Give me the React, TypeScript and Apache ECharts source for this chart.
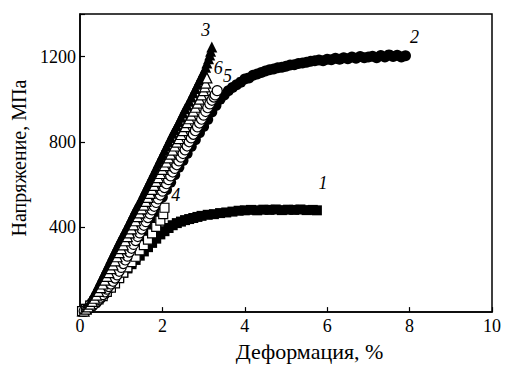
import React, { useEffect, useRef } from "react";
import * as echarts from "echarts";

const FONT = '"Liberation Serif", "Times New Roman", serif';

const xTicks = [0, 2, 4, 6, 8, 10];
const yTicks = [0, 400, 800, 1200];

// curve 1 — filled squares
const curve1: number[][] = [
  [0.05, 5], [0.15, 15], [0.25, 30], [0.35, 50], [0.45, 70], [0.55, 85], [0.65, 100], [0.75, 118],
  [0.85, 140], [0.95, 165], [1.05, 185], [1.15, 205], [1.25, 225], [1.35, 245], [1.45, 265],
  [1.55, 285], [1.65, 305], [1.75, 325], [1.85, 345], [1.95, 365], [2.05, 380], [2.15, 395],
  [2.25, 408], [2.35, 418], [2.45, 425], [2.55, 432], [2.65, 437], [2.75, 442], [2.85, 447],
  [2.95, 452], [3.1, 457], [3.25, 460], [3.4, 465], [3.55, 468], [3.7, 472], [3.85, 476],
  [4.0, 478], [4.15, 480], [4.3, 478], [4.45, 481], [4.6, 480], [4.75, 482], [4.9, 479],
  [5.05, 481], [5.2, 480], [5.35, 482], [5.5, 479], [5.65, 480], [5.75, 478],
];

// curve 2 — filled circles
const curve2: number[][] = [
  [0.1, 5], [0.2, 15], [0.3, 30], [0.4, 45], [0.5, 65], [0.6, 85], [0.7, 110], [0.8, 135],
  [0.9, 165], [1.0, 195], [1.1, 228], [1.2, 262], [1.3, 295], [1.4, 330], [1.5, 365], [1.6, 400],
  [1.7, 435], [1.8, 470], [1.9, 505], [2.0, 540], [2.1, 575], [2.2, 610], [2.3, 645], [2.4, 680],
  [2.5, 712], [2.6, 745], [2.7, 778], [2.8, 810], [2.9, 842], [3.0, 872], [3.1, 905], [3.2, 940],
  [3.3, 970], [3.4, 1000], [3.5, 1020], [3.6, 1040], [3.7, 1055], [3.8, 1068], [3.9, 1080],
  [4.0, 1095], [4.1, 1100], [4.2, 1112], [4.3, 1118], [4.4, 1125], [4.5, 1132], [4.6, 1138],
  [4.7, 1142], [4.8, 1148], [4.9, 1150], [5.0, 1155], [5.1, 1160], [5.2, 1162], [5.3, 1168],
  [5.4, 1170], [5.5, 1173], [5.6, 1178], [5.7, 1180], [5.8, 1184], [5.9, 1180], [6.0, 1188],
  [6.1, 1185], [6.2, 1192], [6.3, 1188], [6.4, 1195], [6.5, 1190], [6.6, 1198], [6.7, 1192],
  [6.8, 1200], [6.9, 1195], [7.0, 1198], [7.1, 1202], [7.2, 1195], [7.3, 1205], [7.4, 1198],
  [7.5, 1208], [7.6, 1200], [7.7, 1206], [7.8, 1198], [7.9, 1204],
];

// curve 3 — filled triangles
const curve3: number[][] = [
  [0.05, 5], [0.1, 14], [0.15, 25], [0.2, 40], [0.25, 55], [0.3, 72], [0.35, 90], [0.4, 110],
  [0.45, 130], [0.5, 150], [0.55, 170], [0.6, 190], [0.65, 210], [0.7, 230], [0.75, 250],
  [0.8, 270], [0.85, 290], [0.9, 310], [0.95, 330], [1.0, 349], [1.05, 368], [1.1, 387],
  [1.15, 405], [1.2, 425], [1.25, 445], [1.3, 465], [1.35, 485], [1.4, 502], [1.45, 520],
  [1.5, 540], [1.55, 560], [1.6, 580], [1.65, 600], [1.7, 620], [1.75, 640], [1.8, 660],
  [1.85, 680], [1.9, 700], [1.95, 720], [2.0, 740], [2.05, 760], [2.1, 780], [2.15, 800],
  [2.2, 820], [2.25, 840], [2.3, 858], [2.35, 875], [2.4, 895], [2.45, 915], [2.5, 935],
  [2.55, 955], [2.6, 972], [2.65, 990], [2.7, 1010], [2.75, 1030], [2.8, 1050], [2.85, 1070],
  [2.9, 1090], [2.95, 1110], [3.0, 1130], [3.05, 1150], [3.08, 1170], [3.12, 1190],
  [3.15, 1208], [3.17, 1225], [3.2, 1245],
];

// curve 4 — open squares
const curve4: number[][] = [
  [0.05, 5], [0.15, 15], [0.25, 30], [0.35, 45], [0.45, 60], [0.55, 75], [0.65, 95], [0.75, 115],
  [0.85, 135], [0.95, 160], [1.05, 185], [1.15, 210], [1.25, 235], [1.35, 260], [1.45, 290],
  [1.55, 315], [1.65, 340], [1.75, 370], [1.85, 400], [1.95, 430], [2.02, 460], [2.05, 490],
];

// curve 5 — open circles
const curve5: number[][] = [
  [0.1, 5], [0.15, 10], [0.2, 15], [0.25, 22], [0.3, 30], [0.35, 40], [0.4, 50], [0.45, 60],
  [0.5, 70], [0.55, 82], [0.6, 95], [0.65, 108], [0.7, 120], [0.75, 132], [0.8, 145],
  [0.85, 160], [0.9, 175], [0.95, 192], [1.0, 210], [1.05, 228], [1.1, 245], [1.15, 263],
  [1.2, 282], [1.25, 300], [1.3, 318], [1.35, 336], [1.4, 355], [1.45, 372], [1.5, 390],
  [1.55, 408], [1.6, 425], [1.65, 444], [1.7, 462], [1.75, 480], [1.8, 497], [1.85, 515],
  [1.9, 532], [1.95, 550], [2.0, 568], [2.05, 585], [2.1, 603], [2.15, 622], [2.2, 640],
  [2.25, 658], [2.3, 675], [2.35, 692], [2.4, 710], [2.45, 728], [2.5, 745], [2.55, 762],
  [2.6, 780], [2.65, 800], [2.7, 818], [2.75, 835], [2.8, 852], [2.85, 870], [2.9, 888],
  [2.95, 906], [3.0, 925], [3.05, 942], [3.1, 960], [3.15, 978], [3.2, 995], [3.25, 1010],
  [3.28, 1020], [3.33, 1040],
];

// curve 6 — open triangles
const curve6: number[][] = [
  [0.1, 5], [0.15, 14], [0.2, 25], [0.25, 37], [0.3, 50], [0.35, 65], [0.4, 80], [0.45, 97],
  [0.5, 115], [0.55, 132], [0.6, 150], [0.65, 168], [0.7, 185], [0.75, 204], [0.8, 222],
  [0.85, 241], [0.9, 260], [0.95, 279], [1.0, 298], [1.05, 316], [1.1, 335], [1.15, 354],
  [1.2, 372], [1.25, 391], [1.3, 410], [1.35, 429], [1.4, 448], [1.45, 466], [1.5, 485],
  [1.55, 502], [1.6, 520], [1.65, 539], [1.7, 558], [1.75, 576], [1.8, 595], [1.85, 614],
  [1.9, 632], [1.95, 651], [2.0, 670], [2.05, 688], [2.1, 705], [2.15, 724], [2.2, 742],
  [2.25, 761], [2.3, 780], [2.35, 798], [2.4, 815], [2.45, 834], [2.5, 852], [2.55, 871],
  [2.6, 890], [2.65, 908], [2.7, 925], [2.75, 944], [2.8, 962], [2.85, 981], [2.9, 1000],
  [2.95, 1020], [3.0, 1040], [3.03, 1058], [3.05, 1075], [3.08, 1100],
];

const curveNames = ["1", "2", "3", "4", "5", "6"];

function withEndLabel(data: number[][], text: string, size: number, offset: number[]) {
  return data.map((p, i) =>
    i === data.length - 1
      ? {
          value: p,
          label: {
            show: true,
            formatter: text,
            position: [size / 2 + offset[0], size / 2 + offset[1]],
            align: "center",
            verticalAlign: "middle",
            color: "#000",
            opacity: 1,
            textBorderWidth: 0,
            fontFamily: FONT,
            fontStyle: "italic",
            fontSize: 18,
          },
        }
      : { value: p }
  );
}

export default function App() {
  const ref = useRef<HTMLDivElement>(null);
  useEffect(() => {
    if (!ref.current) return;
    const chart = echarts.init(ref.current, null, { renderer: "svg" });
    const filled = { color: "#000", opacity: 1 };
    const open = { color: "#fff", borderColor: "#000", borderWidth: 1.2, opacity: 1 };
    const base = { type: "scatter", silent: true, clip: false };
    chart.setOption({
      animation: false,
      backgroundColor: "#fff",
      grid: {
        left: 80,
        top: 14,
        width: 412,
        height: 304,
        show: true,
        borderColor: "#000",
        borderWidth: 1.5,
        backgroundColor: "transparent",
      },
      xAxis: {
        type: "value",
        min: xTicks[0],
        max: xTicks[xTicks.length - 1],
        interval: 2,
        name: "Деформация, %",
        nameLocation: "middle",
        nameGap: 21,
        nameTextStyle: { fontFamily: FONT, fontSize: 22, color: "#000", padding: [0, 0, 0, 47] },
        axisLine: { show: true, lineStyle: { color: "#000", width: 1.5 } },
        axisTick: { show: true, inside: true, length: 5, lineStyle: { color: "#000", width: 1.2 } },
        axisLabel: { fontFamily: FONT, fontSize: 18, color: "#000", margin: 5 },
        splitLine: { show: false },
      },
      yAxis: {
        type: "value",
        min: 0,
        max: 1400,
        interval: 400,
        name: "Напряжение, МПа",
        nameLocation: "middle",
        nameGap: 48,
        nameTextStyle: { fontFamily: FONT, fontSize: 20, color: "#000", padding: [0, 0, 0, 10] },
        axisLine: { show: true, lineStyle: { color: "#000", width: 1.5 } },
        axisTick: { show: true, inside: true, length: 5, lineStyle: { color: "#000", width: 1.2 } },
        axisLabel: {
          fontFamily: FONT,
          fontSize: 18,
          color: "#000",
          margin: 4,
          formatter: (v: number) => (yTicks.indexOf(v) > 0 ? String(v) : ""),
        },
        splitLine: { show: false },
      },
      series: [
        { ...base, name: curveNames[0], symbol: "rect", symbolSize: 10, itemStyle: filled, data: withEndLabel(curve1, curveNames[0], 10, [6, -27]) },
        { ...base, name: curveNames[1], symbol: "circle", symbolSize: 11, itemStyle: filled, data: withEndLabel(curve2, curveNames[1], 11, [9, -19]) },
        { ...base, name: curveNames[2], symbol: "triangle", symbolSize: 11, itemStyle: filled, data: withEndLabel(curve3, curveNames[2], 11, [-6, -17]) },
        { ...base, name: curveNames[3], symbol: "rect", symbolSize: 9, itemStyle: open, data: withEndLabel(curve4, curveNames[3], 9, [12, -12]) },
        { ...base, name: curveNames[4], symbol: "circle", symbolSize: 10, itemStyle: open, data: withEndLabel(curve5, curveNames[4], 10, [11, -14]) },
        { ...base, name: curveNames[5], symbol: "triangle", symbolSize: 10, itemStyle: open, data: withEndLabel(curve6, curveNames[5], 10, [12, -9]) },
      ],
    });
    return () => chart.dispose();
  }, []);
  return (
    <div
      ref={ref}
      style={{ position: "absolute", left: 0, top: 0, width: 506, height: 367 }}
    />
  );
}
